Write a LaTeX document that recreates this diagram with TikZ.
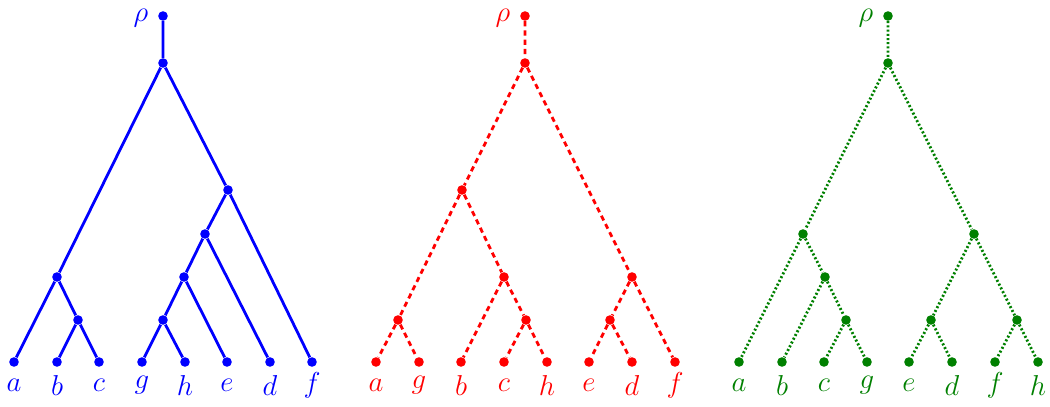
\documentclass[tikz,border=0pt]{standalone}
\begin{document}
\begin{tikzpicture}[x=0.5pt,y=-0.5pt,
  dot/.style={circle,fill=#1,inner sep=0pt,minimum size=4.8pt},
  lab/.style={text=#1,font=\fontsize{14}{16}\selectfont,inner sep=0pt},
  rholab/.style={text=#1,font=\fontsize{14}{16}\selectfont,inner sep=0pt,anchor=base},
  eblue/.style={draw=blue,line width=1.4pt},
  ered/.style={draw=red,line width=1.4pt,dash pattern=on 2.6pt off 2pt},
  egreen/.style={draw=black!50!green,line width=1.4pt,dash pattern=on 1pt off 1.1pt}]
\useasboundingbox (0,0) rectangle (1050,407);
\colorlet{dg}{black!50!green}
% ---------- blue tree ----------
\node[dot=blue] (Br) at (163,16) {};
\node[dot=blue] (B0) at (163,63) {};
\node[dot=blue] (B1) at (57,277) {};
\node[dot=blue] (B2) at (78,320) {};
\node[dot=blue] (B3) at (228,190) {};
\node[dot=blue] (B4) at (205,234) {};
\node[dot=blue] (B5) at (184,277) {};
\node[dot=blue] (B6) at (163,320) {};
\foreach \n/\x in {a/14,b/57,c/99,g/142,h/185,e/227,d/270,f/312}{
  \node[dot=blue] (B\n) at (\x,362) {};
  \node[lab=blue] (BL\n) at (\x,385) {$\n$};
}
\node[rholab=blue] (Brho) at (141,21) {$\rho$};
\draw[eblue] (Br)--(B0) (B0)--(B1) (B0)--(B3) (B1)--(Ba) (B1)--(B2) (B2)--(Bb) (B2)--(Bc)
  (B3)--(B4) (B3)--(Bf) (B4)--(B5) (B4)--(Bd) (B5)--(B6) (B5)--(Be) (B6)--(Bg) (B6)--(Bh);
% ---------- red tree ----------
\node[dot=red] (Rr) at (525,16) {};
\node[dot=red] (R0) at (525,63) {};
\node[dot=red] (R1) at (462,190) {};
\node[dot=red] (R2) at (398,320) {};
\node[dot=red] (R3) at (504,277) {};
\node[dot=red] (R4) at (526,320) {};
\node[dot=red] (R5) at (632,277) {};
\node[dot=red] (R6) at (610,320) {};
\foreach \n/\x in {a/376,g/419,b/461,c/504,h/547,e/589,d/632,f/675}{
  \node[dot=red] (R\n) at (\x,362) {};
  \node[lab=red] (RL\n) at (\x,385) {$\n$};
}
\node[rholab=red] (Rrho) at (503,21) {$\rho$};
\draw[ered] (Rr)--(R0) (R0)--(R1) (R0)--(R5) (R1)--(R2) (R1)--(R3) (R2)--(Ra) (R2)--(Rg)
  (R3)--(Rb) (R3)--(R4) (R4)--(Rc) (R4)--(Rh) (R5)--(R6) (R5)--(Rf) (R6)--(Re) (R6)--(Rd);
% ---------- green tree ----------
\node[dot=dg] (Gr) at (888,16) {};
\node[dot=dg] (G0) at (888,63) {};
\node[dot=dg] (G1) at (803,234) {};
\node[dot=dg] (G2) at (825,277) {};
\node[dot=dg] (G3) at (846,320) {};
\node[dot=dg] (G4) at (974,234) {};
\node[dot=dg] (G5) at (931,320) {};
\node[dot=dg] (G6) at (1017,320) {};
\foreach \n/\x in {a/739,b/782,c/824,g/867,e/909,d/952,f/995,h/1038}{
  \node[dot=dg] (G\n) at (\x,362) {};
  \node[lab=dg] (GL\n) at (\x,385) {$\n$};
}
\node[rholab=dg] (Grho) at (866,21) {$\rho$};
\draw[egreen] (Gr)--(G0) (G0)--(G1) (G0)--(G4) (G1)--(Ga) (G1)--(G2) (G2)--(Gb) (G2)--(G3)
  (G3)--(Gc) (G3)--(Gg) (G4)--(G5) (G4)--(G6) (G5)--(Ge) (G5)--(Gd) (G6)--(Gf) (G6)--(Gh);
\end{tikzpicture}
\end{document}
